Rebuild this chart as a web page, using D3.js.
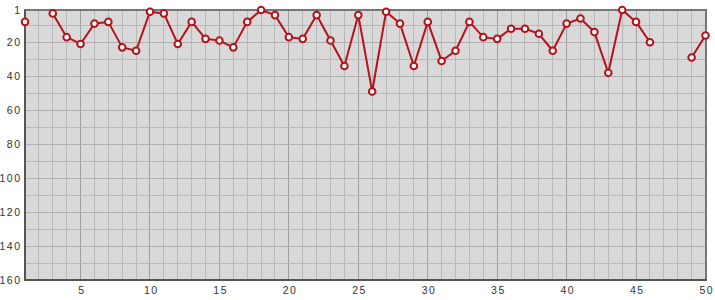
<!DOCTYPE html>
<html><head><meta charset="utf-8">
<script src="https://cdn.jsdelivr.net/npm/d3@7"></script>
<style>body{margin:0;background:#fff}svg{display:block}</style>
</head><body>
<svg id="c" width="715" height="300"></svg>
<script>
const positions = d3.range(1, 51);
const ranks = [8,null,3,17,21,9,8,23,25,2,3,21,8,18,19,23,8,1,4,17,18,4,19,34,4,49,2,9,34,8,31,25,8,17,18,12,12,15,25,9,6,14,38,1,8,20,null,null,29,16];
const xTicks = [5,10,15,20,25,30,35,40,45,50];
const yTicks = [1,20,40,60,80,100,120,140,160];

const svg = d3.select("#c");
const L = 25, R = 706, T = 10, B = 280;
const x = d3.scaleLinear().domain([1, 50]).range([L, 705.5]);
const y = d3.scaleLinear().domain([1, 160]).range([T, B]);
const FONT = "Liberation Sans, Arial, sans-serif";

svg.append("rect").attr("x", L).attr("y", T).attr("width", R - L).attr("height", B - T).attr("fill", "#d9d9d9");

const g = svg.append("g");
positions.forEach(v => {
  g.append("line").attr("x1", x(v)).attr("x2", x(v)).attr("y1", T).attr("y2", B)
    .attr("stroke", v % 5 === 0 ? "#a0a0a0" : "#b8b8b8").attr("stroke-width", 1)
    .attr("shape-rendering", "crispEdges");
});
d3.range(10, 160, 10).forEach(v => {
  g.append("line").attr("x1", L).attr("x2", R).attr("y1", y(v)).attr("y2", y(v))
    .attr("stroke", v % 20 === 0 ? "#b0b0b0" : "#b8b8b8").attr("stroke-width", 1)
    .attr("shape-rendering", "crispEdges");
});

svg.append("rect").attr("x", L).attr("y", T).attr("width", R - L).attr("height", B - T)
  .attr("fill", "none").attr("stroke", "#777").attr("stroke-width", 2);
svg.append("line").attr("x1", L).attr("x2", L).attr("y1", T).attr("y2", B + 1).attr("stroke", "#555").attr("stroke-width", 2);
svg.append("line").attr("x1", L - 1).attr("x2", R + 1).attr("y1", B).attr("y2", B).attr("stroke", "#555").attr("stroke-width", 2);

const xAxis = d3.axisBottom(x).tickValues(xTicks).tickSize(0).tickPadding(6);
const xa = svg.append("g").attr("transform", `translate(0,${B + 1})`).call(xAxis);
xa.select(".domain").remove();
xa.selectAll("text").attr("font-family", FONT).attr("font-size", 10.5).attr("fill", "#333")
  .attr("letter-spacing", 1.5).attr("dx", 0.75);

const yAxis = d3.axisLeft(y).tickValues(yTicks).tickSize(0).tickPadding(3.5);
const ya = svg.append("g").attr("transform", `translate(${L},0)`).call(yAxis);
ya.select(".domain").remove();
ya.selectAll("text").attr("font-family", FONT).attr("font-size", 10.5).attr("fill", "#333")
  .attr("letter-spacing", 1.5);

const data = positions.map((p, i) => ({p, r: ranks[i]}));
const line = d3.line().defined(d => d.r != null).x(d => x(d.p)).y(d => y(d.r));
svg.append("path").datum(data).attr("d", line).attr("fill", "none")
  .attr("stroke", "#b5121b").attr("stroke-width", 2).attr("stroke-linejoin", "round");

svg.selectAll("circle.pt").data(data.filter(d => d.r != null)).enter().append("circle")
  .attr("class", "pt").attr("cx", d => x(d.p)).attr("cy", d => y(d.r)).attr("r", 3.3)
  .attr("fill", "#fff").attr("stroke", "#b5121b").attr("stroke-width", 2);
</script>
</body></html>
